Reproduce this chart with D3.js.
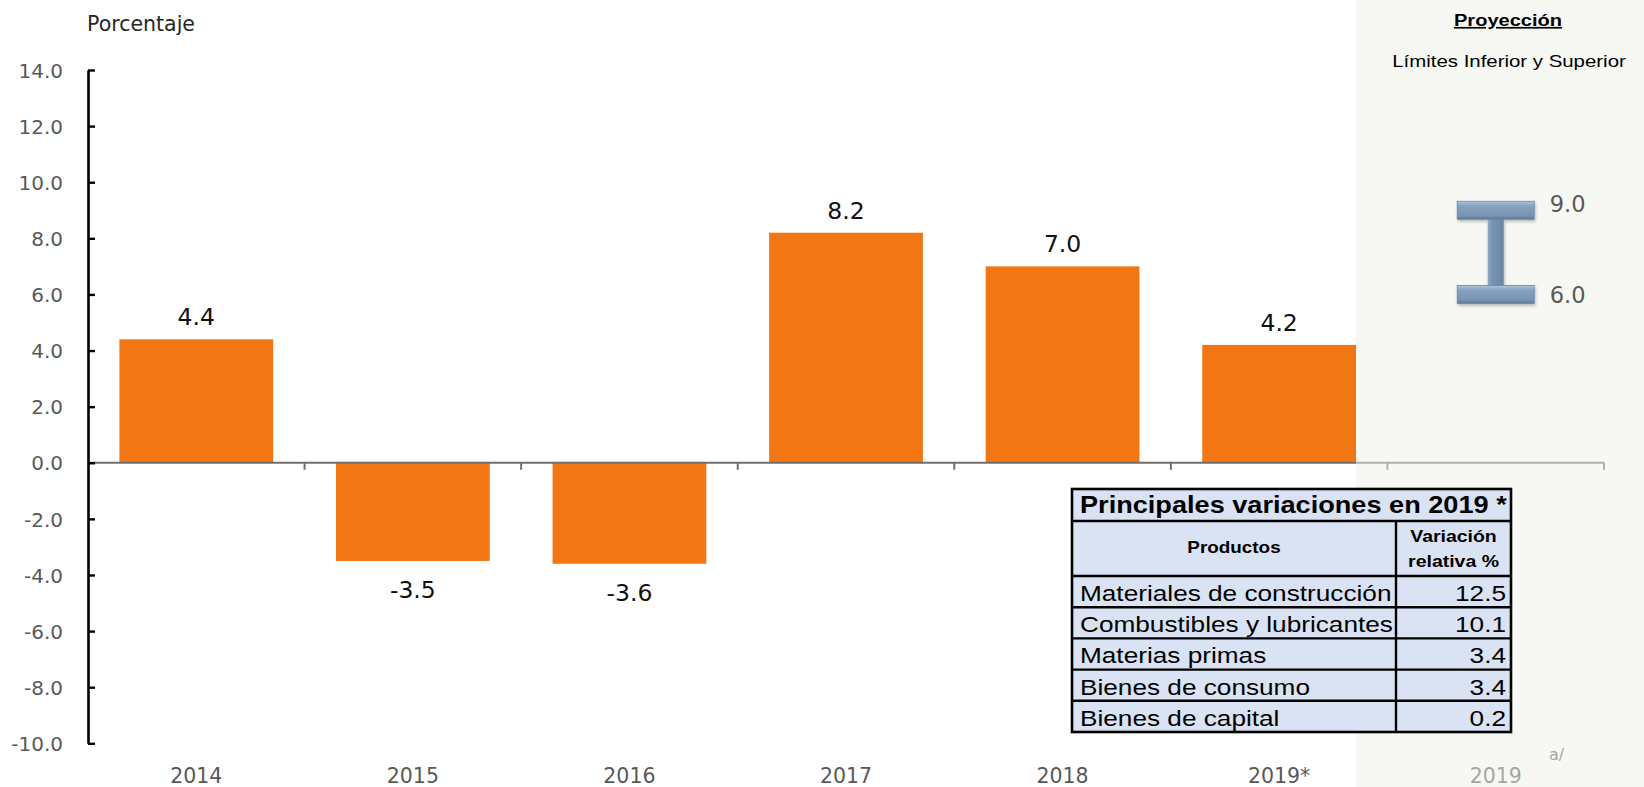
<!DOCTYPE html>
<html>
<head>
<meta charset="utf-8">
<script src="https://cdn.jsdelivr.net/npm/d3@7"></script>
<style>
  html, body { margin: 0; padding: 0; background: #ffffff; }
  svg { display: block; }
</style>
</head>
<body>
<div id="chart"></div>
<script>
// Annual percentage change, with the 2019 projection range and the main product changes
const categories = ["2014", "2015", "2016", "2017", "2018", "2019*", "2019"];
const barYears = ["2014", "2015", "2016", "2017", "2018", "2019*"];
const barValues = [4.4, -3.5, -3.6, 8.2, 7.0, 4.2];
const projectionYear = "2019";
const projectionLimits = [6.0, 9.0];
const yTickValues = [-10, -8, -6, -4, -2, 0, 2, 4, 6, 8, 10, 12, 14];
const products = ["Materiales de construcción", "Combustibles y lubricantes", "Materias primas", "Bienes de consumo", "Bienes de capital"];
const productChanges = [12.5, 10.1, 3.4, 3.4, 0.2];

const W = 1644, H = 787;
const chartFont = "'DejaVu Sans', Verdana, sans-serif";
const tableFont = "'Liberation Sans', Arial, sans-serif";
const SX = 1.18; // horizontal stretch of the Arial texts

const svg = d3.select("#chart").append("svg")
  .attr("width", W).attr("height", H)
  .attr("viewBox", `0 0 ${W} ${H}`);

svg.append("rect").attr("width", W).attr("height", H).attr("fill", "#ffffff");

const defs = svg.append("defs");
const capGrad = defs.append("linearGradient").attr("id", "capGrad")
  .attr("x1", 0).attr("y1", 0).attr("x2", 0).attr("y2", 1);
[["0%", "#b2c7de"], ["25%", "#86a2c0"], ["80%", "#7894b3"], ["100%", "#5d7896"]]
  .forEach(([o, c]) => capGrad.append("stop").attr("offset", o).attr("stop-color", c));
const stemGrad = defs.append("linearGradient").attr("id", "stemGrad")
  .attr("x1", 0).attr("y1", 0).attr("x2", 1).attr("y2", 0);
[["0%", "#8fa9c6"], ["30%", "#7793b2"], ["100%", "#6a86a5"]]
  .forEach(([o, c]) => stemGrad.append("stop").attr("offset", o).attr("stop-color", c));
const shadow = defs.append("filter").attr("id", "shadow")
  .attr("x", "-20%").attr("y", "-20%").attr("width", "140%").attr("height", "160%");
shadow.append("feDropShadow").attr("dx", 1).attr("dy", 2).attr("stdDeviation", 1.5)
  .attr("flood-color", "#000").attr("flood-opacity", 0.25);

// Scales
const x = d3.scaleBand().domain(categories).range([88, 1604])
  .paddingInner(0.29).paddingOuter(0.145);
const y = d3.scaleLinear().domain([-10, 14]).range([743.3, 70]);
const step = x.step();

// Bars
svg.append("g").selectAll("rect")
  .data(barYears.map((c, i) => ({ c, v: barValues[i] })))
  .join("rect")
  .attr("x", d => x(d.c))
  .attr("width", x.bandwidth())
  .attr("y", d => y(Math.max(0, d.v)))
  .attr("height", d => Math.abs(y(d.v) - y(0)))
  .attr("fill", "#f27613");

// Zero line with category separators
const zero = svg.append("g");
zero.append("line")
  .attr("x1", x.range()[0]).attr("x2", x.range()[1])
  .attr("y1", y(0)).attr("y2", y(0))
  .attr("stroke", "#6e6e6e").attr("stroke-width", 2.2);
zero.selectAll("line.sep")
  .data(categories)
  .join("line").attr("class", "sep")
  .attr("x1", d => x(d) + x.bandwidth() + step * x.paddingInner() / 2)
  .attr("x2", d => x(d) + x.bandwidth() + step * x.paddingInner() / 2)
  .attr("y1", y(0)).attr("y2", y(0) + 7)
  .attr("stroke", "#6e6e6e").attr("stroke-width", 2);

// Y axis
const yAxis = svg.append("g")
  .attr("transform", `translate(${x.range()[0]},0)`)
  .call(d3.axisLeft(y).tickValues(yTickValues)
    .tickFormat(d => d.toFixed(1))
    .tickSizeInner(-7).tickSizeOuter(0).tickPadding(25));
yAxis.select(".domain").attr("stroke", "#000").attr("stroke-width", 2.6);
yAxis.selectAll(".tick line").attr("stroke", "#000").attr("stroke-width", 2.4);
yAxis.selectAll(".tick text")
  .attr("font-family", chartFont).attr("font-size", 20)
  .attr("fill", "#595959").attr("dy", "0.36em");

// Axis title
svg.append("text")
  .attr("x", 87).attr("y", 30.5)
  .attr("font-family", chartFont).attr("font-size", 20.5)
  .attr("fill", "#262626")
  .text("Porcentaje");

// Value labels
svg.append("g").selectAll("text")
  .data(barYears.map((c, i) => ({ c, v: barValues[i] })))
  .join("text")
  .attr("x", d => x(d.c) + x.bandwidth() / 2)
  .attr("y", d => d.v >= 0 ? y(d.v) - 14 : y(d.v) + 37.5)
  .attr("text-anchor", "middle")
  .attr("font-family", chartFont).attr("font-size", 23.5)
  .attr("fill", "#111111")
  .text(d => d.v.toFixed(1));

// Category labels
svg.append("g").selectAll("text")
  .data(categories)
  .join("text")
  .attr("x", d => x(d) + x.bandwidth() / 2)
  .attr("y", 783)
  .attr("text-anchor", "middle")
  .attr("font-family", chartFont).attr("font-size", 20.5)
  .attr("fill", "#595959")
  .text(d => d);

svg.append("text")
  .attr("x", 1549).attr("y", 760)
  .attr("font-family", chartFont).attr("font-size", 16)
  .attr("fill", "#595959")
  .text("a/");

// Projection panel
const shadeX = x("2019*") + x.bandwidth();
svg.append("rect")
  .attr("x", shadeX).attr("y", 0)
  .attr("width", W - shadeX).attr("height", H)
  .attr("fill", "#eff1e7").attr("opacity", 0.5);

const cx = x(projectionYear) + x.bandwidth() / 2;
const lo = d3.min(projectionLimits), hi = d3.max(projectionLimits);
const ibeam = svg.append("g").attr("filter", "url(#shadow)");
ibeam.append("rect")
  .attr("x", cx - 8).attr("width", 16)
  .attr("y", y(hi) + 8).attr("height", y(lo) - y(hi) - 16)
  .attr("fill", "url(#stemGrad)");
ibeam.selectAll("rect.cap")
  .data([hi, lo])
  .join("rect").attr("class", "cap")
  .attr("x", cx - 38.5).attr("width", 77)
  .attr("y", d => y(d) - 9).attr("height", 18)
  .attr("fill", "url(#capGrad)")
  .attr("stroke", "#6a86a4").attr("stroke-width", 0.8);

// Limit labels: upper one sits slightly above its cap, lower one on its cap's centre line
svg.append("g").selectAll("text")
  .data([{ v: hi, dy: 1.5 }, { v: lo, dy: 9 }])
  .join("text")
  .attr("x", cx + 54)
  .attr("y", d => y(d.v) + d.dy)
  .attr("font-family", chartFont).attr("font-size", 22.5)
  .attr("fill", "#595959")
  .text(d => d.v.toFixed(1));

function stretched(parent, px, py, txt, size, weight, anchor, sx) {
  return parent.append("text")
    .attr("transform", `translate(${px},${py}) scale(${sx},1)`)
    .attr("text-anchor", anchor)
    .attr("font-family", tableFont)
    .attr("font-size", size)
    .attr("font-weight", weight)
    .attr("fill", "#000")
    .text(txt);
}

stretched(svg, 1508, 26, "Proyección", 17, "bold", "middle", SX)
  .attr("text-decoration", "underline");
stretched(svg, 1509, 67, "Límites Inferior y Superior", 17.3, "normal", "middle", SX);

// Table of main product variations
const T = { x0: 1072, x1: 1511, xDiv: 1396, top: 489, titleB: 521, headB: 576, rowH: 31.2 };
const tbl = svg.append("g");
const bottom = T.headB + products.length * T.rowH;
tbl.append("rect")
  .attr("x", T.x0).attr("y", T.top)
  .attr("width", T.x1 - T.x0).attr("height", bottom - T.top)
  .attr("fill", "#dae3f3");

stretched(tbl, 1080, 513, "Principales variaciones en 2019 *", 23, "bold", "start", SX);
stretched(tbl, (T.x0 + T.xDiv) / 2, 553, "Productos", 16, "bold", "middle", SX);
stretched(tbl, (T.xDiv + T.x1) / 2, 542, "Variación", 16.5, "bold", "middle", SX);
stretched(tbl, (T.xDiv + T.x1) / 2, 567, "relativa %", 16.5, "bold", "middle", SX);

tbl.selectAll("g.row")
  .data(products.map((p, i) => ({ p, v: productChanges[i], i })))
  .join("g").attr("class", "row")
  .each(function (d) {
    const g = d3.select(this);
    const cy = T.headB + (d.i + 0.5) * T.rowH;
    stretched(g, 1080, cy + 9.3, d.p, 22.3, "normal", "start", 1.175);
    stretched(g, T.x1 - 5, cy + 9.3, d.v.toFixed(1), 22.3, "normal", "end", 1.175);
  });

// Grid lines
const hLines = [T.titleB, T.headB].concat(d3.range(1, products.length).map(i => T.headB + i * T.rowH));
tbl.selectAll("line.h")
  .data(hLines)
  .join("line").attr("class", "h")
  .attr("x1", T.x0).attr("x2", T.x1)
  .attr("y1", d => d).attr("y2", d => d)
  .attr("stroke", "#000").attr("stroke-width", 2.4);
tbl.append("line")
  .attr("x1", T.xDiv).attr("x2", T.xDiv)
  .attr("y1", T.titleB).attr("y2", bottom)
  .attr("stroke", "#000").attr("stroke-width", 2.4);
tbl.append("rect")
  .attr("x", T.x0).attr("y", T.top)
  .attr("width", T.x1 - T.x0).attr("height", bottom - T.top)
  .attr("fill", "none").attr("stroke", "#000").attr("stroke-width", 2.6);
</script>
</body>
</html>
